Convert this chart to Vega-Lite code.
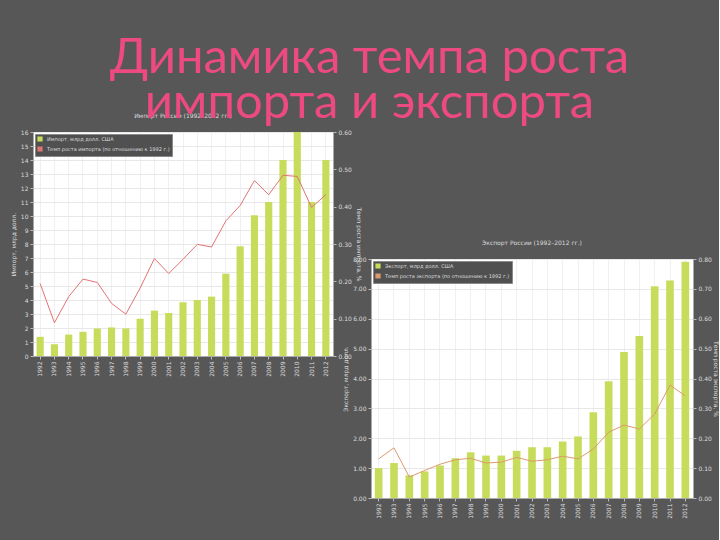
{
  "$schema": "https://vega.github.io/schema/vega-lite/v6.json",
  "background": "#575757",
  "padding": {"left": 9, "top": 33, "right": 0, "bottom": 30},
  "title": {
    "text": ["Динамика темпа роста", "импорта и экспорта"],
    "fontSize": 49, "lineHeight": 45, "font": "Lato", "fontWeight": "normal",
    "color": "#ec4a80", "anchor": "middle", "offset": -15, "dx": 5
  },
  "datasets": {
    "imp": [
      {"year": "1992", "value": 1.37, "rate": 0.194},
      {"year": "1993", "value": 0.84, "rate": 0.089},
      {"year": "1994", "value": 1.53, "rate": 0.159},
      {"year": "1995", "value": 1.73, "rate": 0.206},
      {"year": "1996", "value": 1.97, "rate": 0.197},
      {"year": "1997", "value": 2.04, "rate": 0.141},
      {"year": "1998", "value": 1.97, "rate": 0.112},
      {"year": "1999", "value": 2.66, "rate": 0.182},
      {"year": "2000", "value": 3.24, "rate": 0.261},
      {"year": "2001", "value": 3.07, "rate": 0.221},
      {"year": "2002", "value": 3.84, "rate": 0.259},
      {"year": "2003", "value": 4.0, "rate": 0.299},
      {"year": "2004", "value": 4.24, "rate": 0.292},
      {"year": "2005", "value": 5.88, "rate": 0.362},
      {"year": "2006", "value": 7.84, "rate": 0.403},
      {"year": "2007", "value": 10.05, "rate": 0.47},
      {"year": "2008", "value": 11.0, "rate": 0.432},
      {"year": "2009", "value": 14.0, "rate": 0.484},
      {"year": "2010", "value": 16.0, "rate": 0.481},
      {"year": "2011", "value": 11.0, "rate": 0.398},
      {"year": "2012", "value": 14.0, "rate": 0.432}
    ],
    "exp": [
      {"year": "1992", "value": 1.0, "rate": 0.131},
      {"year": "1993", "value": 1.17, "rate": 0.168},
      {"year": "1994", "value": 0.76, "rate": 0.07},
      {"year": "1995", "value": 0.89, "rate": 0.092},
      {"year": "1996", "value": 1.09, "rate": 0.113},
      {"year": "1997", "value": 1.33, "rate": 0.128},
      {"year": "1998", "value": 1.53, "rate": 0.133},
      {"year": "1999", "value": 1.42, "rate": 0.117},
      {"year": "2000", "value": 1.42, "rate": 0.12},
      {"year": "2001", "value": 1.58, "rate": 0.136},
      {"year": "2002", "value": 1.7, "rate": 0.123},
      {"year": "2003", "value": 1.7, "rate": 0.128},
      {"year": "2004", "value": 1.89, "rate": 0.14},
      {"year": "2005", "value": 2.06, "rate": 0.131},
      {"year": "2006", "value": 2.87, "rate": 0.164},
      {"year": "2007", "value": 3.91, "rate": 0.22},
      {"year": "2008", "value": 4.89, "rate": 0.244},
      {"year": "2009", "value": 5.42, "rate": 0.231},
      {"year": "2010", "value": 7.09, "rate": 0.281},
      {"year": "2011", "value": 7.28, "rate": 0.378},
      {"year": "2012", "value": 7.91, "rate": 0.342}
    ]
  },
  "config": {
    "view": {"fill": "white", "stroke": "#9a9a9a"},
    "axis": {
      "labelFontSize": 6, "labelColor": "#dddddd", "labelFont": "DejaVu Sans",
      "titleFontSize": 6, "titleColor": "#dddddd", "titleFont": "DejaVu Sans", "titleFontWeight": "normal",
      "tickColor": "#bbbbbb", "domainColor": "#aaaaaa", "gridColor": "#e8e8e8", "tickSize": 3, "labelPadding": 2, "titlePadding": 4
    },
    "legend": {
      "orient": "top-left", "offset": 2, "padding": 2, "fillColor": "#505050", "strokeColor": "#8a8a8a",
      "labelFontSize": 5, "labelColor": "#dddddd", "labelFont": "DejaVu Sans", "symbolSize": 14, "rowPadding": 0, "title": null
    },
    "title": {"fontSize": 6, "color": "#dddddd", "fontWeight": "normal", "font": "DejaVu Sans", "offset": 10}
  },
  "spacing": -20,
  "resolve": {"scale": {"color": "independent"}, "legend": {"color": "independent"}},
  "hconcat": [
    {
      "width": 300, "height": 224,
      "title": {"text": "Импорт России (1992–2012 гг.)", "offset": 10},
      "data": {"name": "imp"},
      "encoding": {
        "x": {"field": "year", "type": "ordinal", "title": null,
              "scale": {"paddingInner": 0.5, "paddingOuter": 0.25},
              "axis": {"labelAngle": 270, "grid": true, "gridColor": "#f0f0f0"}}
      },
      "layer": [
        {
          "mark": {"type": "bar"},
          "encoding": {
            "y": {"field": "value", "type": "quantitative", "scale": {"domain": [0, 16]},
                  "axis": {"title": "Импорт, млрд долл.", "tickCount": 16, "format": "d"}},
            "color": {"datum": "Импорт, млрд долл. США",
                      "scale": {"domain": ["Импорт, млрд долл. США", "Темп роста импорта (по отношению к 1992 г.)"], "range": ["#c8dc5c", "#e07474"]}}
          }
        },
        {
          "mark": {"type": "line", "strokeWidth": 1},
          "encoding": {
            "y": {"field": "rate", "type": "quantitative", "scale": {"domain": [0, 0.6]},
                  "axis": {"orient": "right", "title": "Темп роста импорта, %", "tickCount": 6, "format": ".2f", "grid": false}},
            "color": {"datum": "Темп роста импорта (по отношению к 1992 г.)"}
          }
        }
      ],
      "resolve": {"scale": {"y": "independent"}}
    },
    {
      "spacing": 0,
      "resolve": {"scale": {"color": "independent"}, "legend": {"color": "independent"}},
      "vconcat": [
        {
          "width": 322, "height": 107,
          "view": {"fill": null, "stroke": null},
          "data": {"values": [{"a": 0}]},
          "mark": {"type": "point", "opacity": 0},
          "encoding": {}
        },
        {
          "width": 322, "height": 239,
          "title": {"text": "Экспорт России (1992–2012 гг.)", "offset": 10},
          "data": {"name": "exp"},
          "encoding": {
            "x": {"field": "year", "type": "ordinal", "title": null,
                  "scale": {"paddingInner": 0.5, "paddingOuter": 0.25},
                  "axis": {"labelAngle": 270, "grid": true, "gridColor": "#f0f0f0"}}
          },
          "layer": [
            {
              "mark": {"type": "bar"},
              "encoding": {
                "y": {"field": "value", "type": "quantitative", "scale": {"domain": [0, 8]},
                      "axis": {"title": "Экспорт, млрд долл.", "tickCount": 8, "format": ".2f"}},
                "color": {"datum": "Экспорт, млрд долл. США",
                          "scale": {"domain": ["Экспорт, млрд долл. США", "Темп роста экспорта (по отношению к 1992 г.)"], "range": ["#c8dc5c", "#dc9a6c"]}}
              }
            },
            {
              "mark": {"type": "line", "strokeWidth": 1},
              "encoding": {
                "y": {"field": "rate", "type": "quantitative", "scale": {"domain": [0, 0.8]},
                      "axis": {"orient": "right", "title": "Темп роста экспорта, %", "tickCount": 8, "format": ".2f", "grid": false, "titlePadding": 1}},
                "color": {"datum": "Темп роста экспорта (по отношению к 1992 г.)"}
              }
            }
          ],
          "resolve": {"scale": {"y": "independent"}}
        }
      ]
    }
  ]
}
